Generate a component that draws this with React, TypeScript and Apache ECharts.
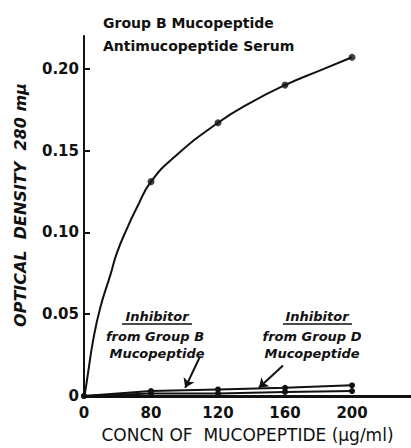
import React, { useEffect, useRef } from "react";
import * as echarts from "echarts";

// Concentrations of mucopeptide (µg/ml) at which points were measured
const concentrations = [0, 80, 120, 160, 200];
// Group B mucopeptide with antimucopeptide serum (measured points)
const antiserumOD = [0, 0.131, 0.167, 0.19, 0.207];
// Points traced along the drawn curve between the measured points (no markers)
const curveTraceConc = [1.2, 4.8, 10.9, 19.4, 31.5, 39, 51, 63, 95, 139, 181];
const curveTraceOD = [0.002, 0.014, 0.034, 0.054, 0.074, 0.087, 0.102, 0.115, 0.147, 0.179, 0.199];
// Inhibitor curves
const inhibitorB = [0, 0.003, 0.004, 0.005, 0.0065];
const inhibitorD = [0, 0.0015, 0.0015, 0.0025, 0.003];
// Axis tick labels (x axis is broken between 0 and 80)
const xTickLabels = ["0", "80", "120", "160", "200"];
const yTicks = [0, 0.05, 0.1, 0.15, 0.2];

// Broken axis: 0..80 occupies one step, then 40 µg/ml per step
const xPos = (c: number) => (c <= 80 ? c / 80 : (c - 40) / 40);

export default function App() {
  const ref = useRef<HTMLDivElement>(null);
  useEffect(() => {
    if (!ref.current) return;
    const chart = echarts.init(ref.current, null, { renderer: "svg" });
    const font = "DejaVu Sans";
    const black = "#111";

    const curvePts: number[][] = [];
    concentrations.forEach((c, i) => curvePts.push([xPos(c), antiserumOD[i]]));
    curveTraceConc.forEach((c, i) => curvePts.push([xPos(c), curveTraceOD[i]]));
    curvePts.sort((a, b) => a[0] - b[0]);

    const italicText = (x: number, y: number, text: string) => ({
      type: "text",
      x,
      y,
      style: {
        text,
        fontFamily: font,
        fontSize: 13,
        fontStyle: "italic",
        fontWeight: "bold",
        fill: black,
        textAlign: "center",
        textVerticalAlign: "middle",
      },
    });

    chart.setOption({
      animation: false,
      backgroundColor: "#fff",
      title: {
        text: "Group B Mucopeptide\nAntimucopeptide Serum",
        left: 98,
        top: 6,
        textStyle: {
          fontFamily: font,
          fontSize: 14,
          fontWeight: "bold",
          color: black,
          lineHeight: 23,
        },
      },
      grid: { left: 84, right: 0, top: 36, bottom: 45 },
      xAxis: {
        type: "value",
        min: 0,
        max: 4.88,
        interval: 1,
        name: "CONCN OF  MUCOPEPTIDE (µg/ml)",
        nameLocation: "middle",
        nameGap: 30,
        nameTextStyle: { fontFamily: font, fontSize: 17, color: black },
        axisLine: { lineStyle: { color: black, width: 3 } },
        axisTick: { show: false },
        splitLine: { show: false },
        axisLabel: {
          customValues: [0, 1, 2, 3, 4],
          formatter: (v: number) => xTickLabels[Math.round(v)] ?? "",
          fontFamily: font,
          fontSize: 15,
          fontWeight: "bold",
          color: black,
          margin: 9,
        },
      },
      yAxis: {
        type: "value",
        min: 0,
        max: 0.22,
        interval: 0.05,
        name: "OPTICAL  DENSITY  280 mµ",
        nameLocation: "middle",
        nameRotate: 90,
        nameGap: 56,
        nameTextStyle: {
          fontFamily: font,
          fontSize: 16,
          fontStyle: "italic",
          fontWeight: "bold",
          color: black,
          padding: [0, 0, 0, 22],
        },
        axisLine: { show: true, lineStyle: { color: black, width: 2 } },
        axisTick: {
          show: true,
          inside: true,
          length: 6,
          customValues: yTicks.slice(1),
          lineStyle: { color: black, width: 2 },
        },
        splitLine: { show: false },
        axisLabel: {
          customValues: yTicks,
          formatter: (v: number) => (v === 0 ? "0" : v.toFixed(2)),
          fontFamily: font,
          fontSize: 15,
          fontWeight: "bold",
          color: black,
          margin: 5,
        },
      },
      series: [
        {
          type: "line",
          data: curvePts,
          smooth: 0.5,
          showSymbol: false,
          lineStyle: { color: black, width: 2 },
        },
        {
          type: "scatter",
          data: concentrations.slice(1).map((c, i) => [xPos(c), antiserumOD[i + 1]]),
          symbolSize: 7,
          itemStyle: { color: black },
        },
        {
          type: "line",
          data: concentrations.map((c, i) => [xPos(c), inhibitorB[i]]),
          symbol: "circle",
          symbolSize: 6,
          showSymbol: true,
          itemStyle: { color: black },
          lineStyle: { color: black, width: 2 },
          markLine: {
            silent: true,
            symbol: ["none", "arrow"],
            symbolSize: 9,
            label: { show: false },
            lineStyle: { color: black, width: 2, type: "solid" },
            data: [
              [{ coord: [1.73, 0.024] }, { coord: [1.51, 0.005] }],
              [{ coord: [2.97, 0.0186] }, { coord: [2.61, 0.005] }],
            ],
          },
        },
        {
          type: "line",
          data: concentrations.map((c, i) => [xPos(c), inhibitorD[i]]),
          symbol: "circle",
          symbolSize: 6,
          showSymbol: true,
          itemStyle: { color: black },
          lineStyle: { color: black, width: 2 },
        },
      ],
      graphic: [
        italicText(157, 316, "Inhibitor"),
        { type: "line", shape: { x1: 122, y1: 324, x2: 192, y2: 324 }, style: { stroke: black, lineWidth: 1.5 } },
        italicText(155, 336, "from Group B"),
        italicText(157, 353, "Mucopeptide"),
        italicText(317, 316, "Inhibitor"),
        { type: "line", shape: { x1: 283, y1: 324, x2: 352, y2: 324 }, style: { stroke: black, lineWidth: 1.5 } },
        italicText(312, 336, "from Group D"),
        italicText(312, 353, "Mucopeptide"),
      ],
    });
    return () => chart.dispose();
  }, []);
  return (
    <div
      ref={ref}
      style={{ position: "fixed", left: 0, top: 0, width: 411, height: 448, background: "#fff" }}
    />
  );
}
